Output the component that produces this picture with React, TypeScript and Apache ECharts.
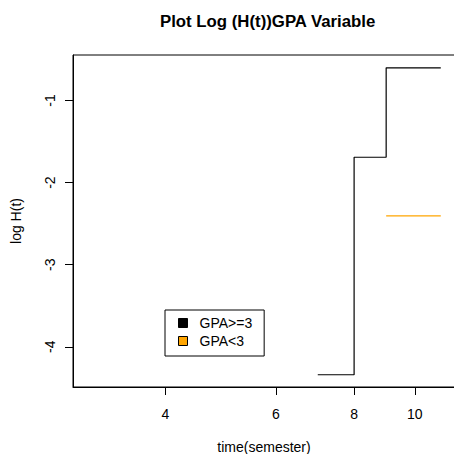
import React, { useEffect, useRef } from "react";
import * as echarts from "echarts";

const TITLE = "Plot Log (H(t))GPA Variable";
const X_NAME = "time(semester)";
const Y_NAME = "log H(t)";
const X_TICKS = [4, 6, 8, 10];
const Y_TICKS = [-4, -3, -2, -1];
const SERIES_NAMES = ["GPA>=3", "GPA<3"];
const SERIES_COLORS = ["#000000", "#FFA500"];
// step-function points (time, log H(t))
const GPA_HIGH_TIME = [7, 8, 9, 11];
const GPA_HIGH_LOGH = [-4.341, -1.691, -0.601, -0.601];
const GPA_LOW_TIME = [9, 11];
const GPA_LOW_LOGH = [-2.406, -2.406];

const FONT = "'Liberation Sans', Arial, sans-serif";

export default function App() {
  const ref = useRef<HTMLDivElement>(null);
  useEffect(() => {
    if (!ref.current) return;
    const chart = echarts.init(ref.current, undefined, { renderer: "svg" });
    const high = GPA_HIGH_TIME.map((t, i) => [t, GPA_HIGH_LOGH[i]]);
    const low = GPA_LOW_TIME.map((t, i) => [t, GPA_LOW_LOGH[i]]);
    chart.setOption({
      animation: false,
      backgroundColor: "#ffffff",
      textStyle: { fontFamily: FONT },
      title: {
        text: TITLE,
        left: 155,
        top: 8,
        textStyle: { fontSize: 16.8, fontWeight: "bold", color: "#000", fontFamily: FONT },
      },
      grid: {
        left: 73,
        top: 55,
        width: 382,
        height: 332,
        show: true,
        borderColor: "#000",
        borderWidth: 1,
        backgroundColor: "transparent",
        containLabel: false,
        outerBoundsMode: "none",
      },
      legend: {
        orient: "vertical",
        left: 165,
        top: 310,
        padding: [6, 12, 8, 13],
        itemWidth: 9,
        itemHeight: 9,
        itemGap: 4,
        borderColor: "#000",
        borderWidth: 1,
        borderRadius: 0,
        backgroundColor: "#fff",
        textStyle: { fontSize: 14, color: "#000", fontFamily: FONT, padding: [0, 0, 0, 7] },
        data: SERIES_NAMES.map((n, i) => ({
          name: n,
          icon: "rect",
          itemStyle: { color: SERIES_COLORS[i], borderColor: "#000", borderWidth: 1 },
        })),
      },
      xAxis: {
        type: "log",
        logBase: 10,
        min: 2.848,
        max: 11.59,
        name: X_NAME,
        nameLocation: "middle",
        nameGap: 53,
        nameTextStyle: { fontSize: 14, color: "#000", fontFamily: FONT },
        axisLine: { show: true, lineStyle: { color: "#000", width: 1 } },
        axisTick: { show: true, length: 8, customValues: X_TICKS, lineStyle: { color: "#000" } },
        axisLabel: { show: true, customValues: X_TICKS, margin: 20, fontSize: 14, color: "#000", fontFamily: FONT },
        splitLine: { show: false },
        minorTick: { show: false },
        minorSplitLine: { show: false },
      },
      yAxis: {
        type: "value",
        min: -4.49,
        max: -0.445,
        name: Y_NAME,
        nameLocation: "middle",
        nameGap: 50,
        nameTextStyle: { fontSize: 14, color: "#000", fontFamily: FONT },
        axisLine: { show: true, lineStyle: { color: "#000", width: 1 } },
        axisTick: { show: true, length: 8, customValues: Y_TICKS, lineStyle: { color: "#000" } },
        axisLabel: { show: true, customValues: Y_TICKS, rotate: 90, margin: 16, fontSize: 14, color: "#000", fontFamily: FONT },
        splitLine: { show: false },
      },
      series: [
        {
          name: SERIES_NAMES[0],
          type: "line",
          step: "end",
          data: high,
          showSymbol: false,
          symbol: "none",
          itemStyle: { color: SERIES_COLORS[0] },
          lineStyle: { color: SERIES_COLORS[0], width: 1.2 },
        },
        {
          name: SERIES_NAMES[1],
          type: "line",
          step: "end",
          data: low,
          showSymbol: false,
          symbol: "none",
          itemStyle: { color: SERIES_COLORS[1] },
          lineStyle: { color: SERIES_COLORS[1], width: 1.2 },
        },
      ],
    });
    return () => chart.dispose();
  }, []);
  return (
    <div
      ref={ref}
      style={{ position: "fixed", left: 0, top: 0, width: 454, height: 454 }}
    />
  );
}
